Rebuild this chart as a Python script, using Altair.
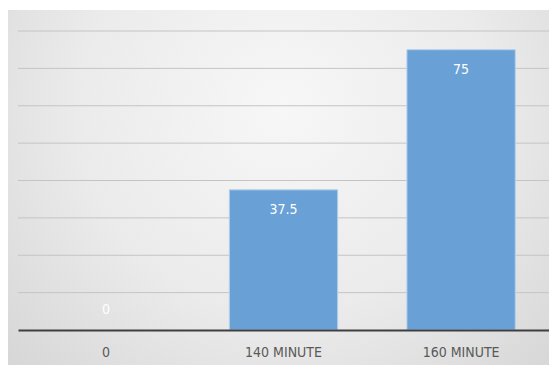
import altair as alt
import pandas as pd

categories = ["0", "140 MINUTE", "160 MINUTE"]
values = [0, 37.5, 75]
grid_values = [10, 20, 30, 40, 50, 60, 70, 80]

df = pd.DataFrame({"cat": categories, "val": values})
grid_df = pd.DataFrame({"g": grid_values})

FONT = "Liberation Sans Narrow, DejaVu Sans Condensed, sans-serif"
W, H = 531, 299

bg_gradient = alt.Gradient(
    gradient="radial",
    stops=[
        alt.GradientStop(color="#f7f7f7", offset=0),
        alt.GradientStop(color="#ebebeb", offset=0.5),
        alt.GradientStop(color="#d2d2d2", offset=1),
    ],
    x1=0.5, y1=0.35, r1=0, x2=0.5, y2=0.35, r2=0.75,
)

y_scale = alt.Scale(domain=[0, 80], nice=False)

background = alt.Chart(df).mark_rect(fill=bg_gradient).encode(
    x=alt.value(-10), x2=alt.value(W + 10),
    y=alt.value(-21), y2=alt.value(H + 40),
)

grid = alt.Chart(grid_df).mark_rule(color="#c4c4c4", strokeWidth=1).encode(
    y=alt.Y("g:Q", scale=y_scale, axis=None),
    x=alt.value(0), x2=alt.value(W),
)

x_enc = alt.X(
    "cat:N",
    sort=categories,
    scale=alt.Scale(domain=categories, paddingInner=0.39, paddingOuter=0.19),
    axis=alt.Axis(
        title=None, labelAngle=0, ticks=False, grid=False,
        domainColor="#3f3f3f", domainWidth=2, zindex=1,
        labelColor="#595959", labelFont=FONT, labelFontSize=14,
        labelPadding=15,
    ),
)
y_enc = alt.Y("val:Q", scale=y_scale, axis=None)

bars = alt.Chart(df).transform_filter("datum.val > 0").mark_bar(
    color="#69a0d6", stroke="#b5d0ec", strokeWidth=1
).encode(x=x_enc, y=y_enc)

labels_pos = alt.Chart(df).transform_filter("datum.val > 0").mark_text(
    color="white", font=FONT, fontSize=14, dy=20, baseline="middle"
).encode(x=alt.X("cat:N", sort=categories), y="val:Q", text="val:Q")

labels_zero = alt.Chart(df).transform_filter("datum.val == 0").mark_text(
    color="white", font=FONT, fontSize=14, dy=-20, baseline="middle"
).encode(x=alt.X("cat:N", sort=categories), y="val:Q", text="val:Q")

chart = alt.layer(background, grid, bars, labels_pos, labels_zero).properties(
    width=W, height=H,
    autosize=alt.AutoSizeParams(type="none"),
    padding={"left": 18, "top": 31, "right": 0, "bottom": 35},
    background="white",
).configure_view(stroke=None)

chart.save("out.html", embed_options={"renderer": "svg", "actions": False})
